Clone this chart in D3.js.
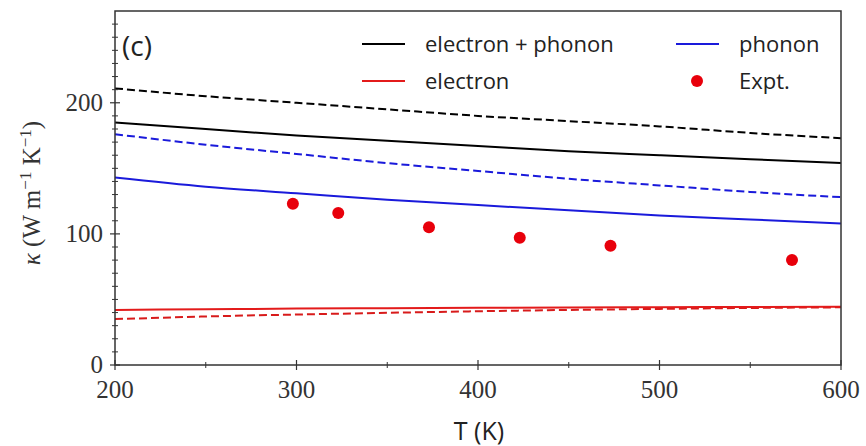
<!DOCTYPE html>
<html lang="en">
<head>
    <meta charset="UTF-8">
    <title>Thermal conductivity</title>
    <script src="https://d3js.org/d3.v7.min.js"></script>
    <style>
        body { margin: 0; background: #fff; }
        .tick-label { font-family: "Liberation Serif", "DejaVu Serif", serif; font-size: 25px; fill: #333; }
        .sans { font-family: "Open Sans", "DejaVu Sans", sans-serif; fill: #222; }
        .curve { fill: none; stroke-width: 2px; }
    </style>
</head>
<body>
    <svg width="866" height="446"></svg>
    <script>
        // temperatures (K) used for the computed curves
        const temps = [200, 250, 300, 350, 400, 450, 500, 550, 600];

        // solid = one model, dashed = the other
        const totalSolid   = [185, 180, 175, 171, 167, 163, 160, 157, 154];
        const totalDashed  = [211, 205, 200, 195, 190, 186, 182, 177, 173];
        const phononSolid  = [143, 136, 131, 126, 122, 118, 114, 111, 108];
        const phononDashed = [176, 168, 161, 154, 148, 142, 137, 132, 128];
        const electronSolid  = [42, 42.5, 43, 43.3, 43.6, 43.9, 44.1, 44.3, 44.5];
        const electronDashed = [35, 37, 38.5, 39.8, 41, 42, 42.8, 43.5, 44];

        // experimental points
        const exptT = [298, 323, 373, 423, 473, 573];
        const exptK = [123, 116, 105, 97, 91, 80];

        const xTicks = [200, 300, 400, 500, 600];
        const yTicks = [0, 100, 200];

        const svg = d3.select("svg");
        const mLeft = 115, mRight = 841, mTop = 11, mBottom = 365;

        const x = d3.scaleLinear().domain([200, 600]).range([mLeft, mRight]);
        const y = d3.scaleLinear().domain([0, 270]).range([mBottom, mTop]);

        const line = d3.line()
            .x((d, i) => x(temps[i]))
            .y(d => y(d))
            .curve(d3.curveMonotoneX);

        const series = [
            { v: totalDashed, color: "#000", dash: "8,4" },
            { v: totalSolid, color: "#000", dash: null },
            { v: phononDashed, color: "#1a1adb", dash: "8,4" },
            { v: phononSolid, color: "#1a1adb", dash: null },
            { v: electronDashed, color: "#d81b1b", dash: "8,4" },
            { v: electronSolid, color: "#e31b1b", dash: null }
        ];

        svg.selectAll(".curve")
            .data(series)
            .enter().append("path")
            .attr("class", "curve")
            .attr("d", d => line(d.v))
            .attr("stroke", d => d.color)
            .attr("stroke-dasharray", d => d.dash);

        svg.selectAll(".expt")
            .data(exptT)
            .enter().append("circle")
            .attr("class", "expt")
            .attr("cx", d => x(d))
            .attr("cy", (d, i) => y(exptK[i]))
            .attr("r", 6)
            .attr("fill", "#e8000b");

        // frame
        svg.append("rect")
            .attr("x", mLeft).attr("y", mTop)
            .attr("width", mRight - mLeft).attr("height", mBottom - mTop)
            .attr("fill", "none").attr("stroke", "#333").attr("stroke-width", 1.5);

        // x axis ticks
        const xMinor = d3.range(250, 600, 100);
        svg.selectAll(".xmaj").data(xTicks).enter().append("line")
            .attr("x1", d => x(d)).attr("x2", d => x(d))
            .attr("y1", mBottom - 5).attr("y2", mBottom + 5)
            .attr("stroke", "#333").attr("stroke-width", 1.2);
        svg.selectAll(".xmin").data(xMinor).enter().append("line")
            .attr("x1", d => x(d)).attr("x2", d => x(d))
            .attr("y1", mBottom - 3).attr("y2", mBottom + 3)
            .attr("stroke", "#333").attr("stroke-width", 1);
        svg.selectAll(".xlab").data(xTicks).enter().append("text")
            .attr("class", "tick-label")
            .attr("x", d => x(d)).attr("y", mBottom + 33)
            .attr("text-anchor", "middle")
            .text(d => d);

        // y axis ticks
        const yMinor = d3.range(10, 270, 10).filter(v => v % 100 !== 0);
        svg.selectAll(".ymaj").data(yTicks).enter().append("line")
            .attr("x1", mLeft - 5).attr("x2", mLeft + 5)
            .attr("y1", d => y(d)).attr("y2", d => y(d))
            .attr("stroke", "#333").attr("stroke-width", 1.2);
        svg.selectAll(".ymin").data(yMinor).enter().append("line")
            .attr("x1", mLeft - 3).attr("x2", mLeft + 3)
            .attr("y1", d => y(d)).attr("y2", d => y(d))
            .attr("stroke", "#333").attr("stroke-width", 1);
        svg.selectAll(".ylab").data(yTicks).enter().append("text")
            .attr("class", "tick-label")
            .attr("x", mLeft - 12).attr("y", d => y(d) + 8)
            .attr("text-anchor", "end")
            .text(d => d);

        // axis titles
        svg.append("text")
            .attr("class", "sans")
            .attr("x", 479).attr("y", 440)
            .attr("text-anchor", "middle")
            .style("font-size", "25px")
            .text("T (K)");

        const yTitle = svg.append("text")
            .attr("transform", "translate(40,193) rotate(-90)")
            .attr("text-anchor", "middle")
            .style("font-family", "'Liberation Serif', serif")
            .style("font-size", "25px")
            .attr("fill", "#333");
        yTitle.append("tspan").style("font-style", "italic").text("κ");
        yTitle.append("tspan").text(" (W m");
        yTitle.append("tspan").attr("dy", -9).style("font-size", "17px").text("−1");
        yTitle.append("tspan").attr("dy", 9).text(" K");
        yTitle.append("tspan").attr("dy", -9).style("font-size", "17px").text("−1");
        yTitle.append("tspan").attr("dy", 9).text(")");

        // panel label
        svg.append("text")
            .attr("class", "sans")
            .attr("x", 122).attr("y", 56)
            .style("font-size", "28px")
            .text("(c)");

        // legend
        const legend = [
            { label: "electron + phonon", color: "#000", type: "line", lx: 362, ly: 44 },
            { label: "electron", color: "#e31b1b", type: "line", lx: 362, ly: 81 },
            { label: "phonon", color: "#1a1adb", type: "line", lx: 676, ly: 44 },
            { label: "Expt.", color: "#e8000b", type: "dot", lx: 676, ly: 81 }
        ];
        const lg = svg.selectAll(".legend").data(legend).enter().append("g")
            .attr("transform", d => `translate(${d.lx},${d.ly})`);
        lg.filter(d => d.type === "line").append("line")
            .attr("x1", 0).attr("x2", 43).attr("y1", 0).attr("y2", 0)
            .attr("stroke", d => d.color).attr("stroke-width", 2);
        lg.filter(d => d.type === "dot").append("circle")
            .attr("cx", 21).attr("cy", 0).attr("r", 6).attr("fill", d => d.color);
        lg.append("text")
            .attr("class", "sans")
            .attr("x", 63).attr("y", 8)
            .style("font-size", "22px")
            .text(d => d.label);
    </script>
</body>
</html>
